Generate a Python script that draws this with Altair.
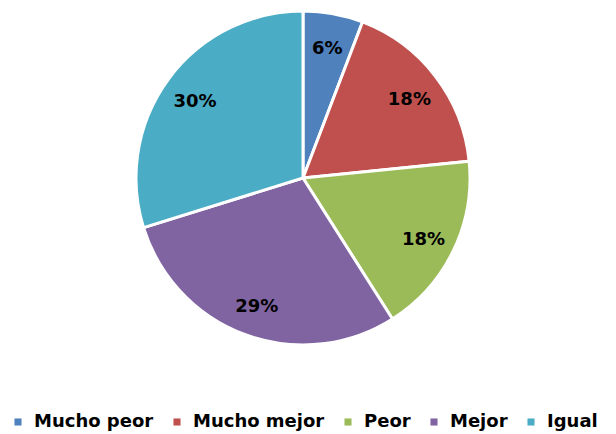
import altair as alt
import pandas as pd

categories = ["Mucho peor", "Mucho mejor", "Peor", "Mejor", "Igual"]
values = [5.8, 17.6, 17.6, 29.2, 29.8]
labels = ["6%", "18%", "18%", "29%", "30%"]
colors = ["#4F81BD", "#C0504D", "#9BBB59", "#8064A2", "#4BACC6"]

df = pd.DataFrame({
    "cat": categories,
    "val": values,
    "lbl": labels,
    "ord": list(range(len(categories))),
})

FONT = "DejaVu Sans"

base = alt.Chart(df).encode(
    theta=alt.Theta("val:Q", stack=True),
    order=alt.Order("ord:Q"),
)

pie = base.mark_arc(outerRadius=167, stroke="white", strokeWidth=3).encode(
    x=alt.value(295),
    y=alt.value(170),
    color=alt.Color(
        "cat:N",
        scale=alt.Scale(domain=categories, range=colors),
        sort=categories,
        legend=alt.Legend(
            title=None,
            orient="none",
            legendX=1,
            legendY=405,
            direction="horizontal",
            columns=5,
            symbolType="square",
            symbolSize=50,
            symbolStrokeWidth=0,
            labelFont=FONT,
            labelFontSize=18,
            labelFontWeight="bold",
            labelColor="black",
            labelLimit=300,
            columnPadding=14,
            labelOffset=7,
        ),
    ),
)

text = base.mark_text(
    radius=134, font=FONT, fontSize=18, fontWeight="bold", color="black", dy=3
).encode(
    x=alt.value(295),
    y=alt.value(170),
    text="lbl:N",
)

chart = (
    alt.layer(pie, text)
    .properties(width=600, height=426, padding=0, autosize=alt.AutoSizeParams(type="none"))
    .configure_view(stroke=None)
)

chart.save("out.html", embed_options={"renderer": "svg", "actions": False})
